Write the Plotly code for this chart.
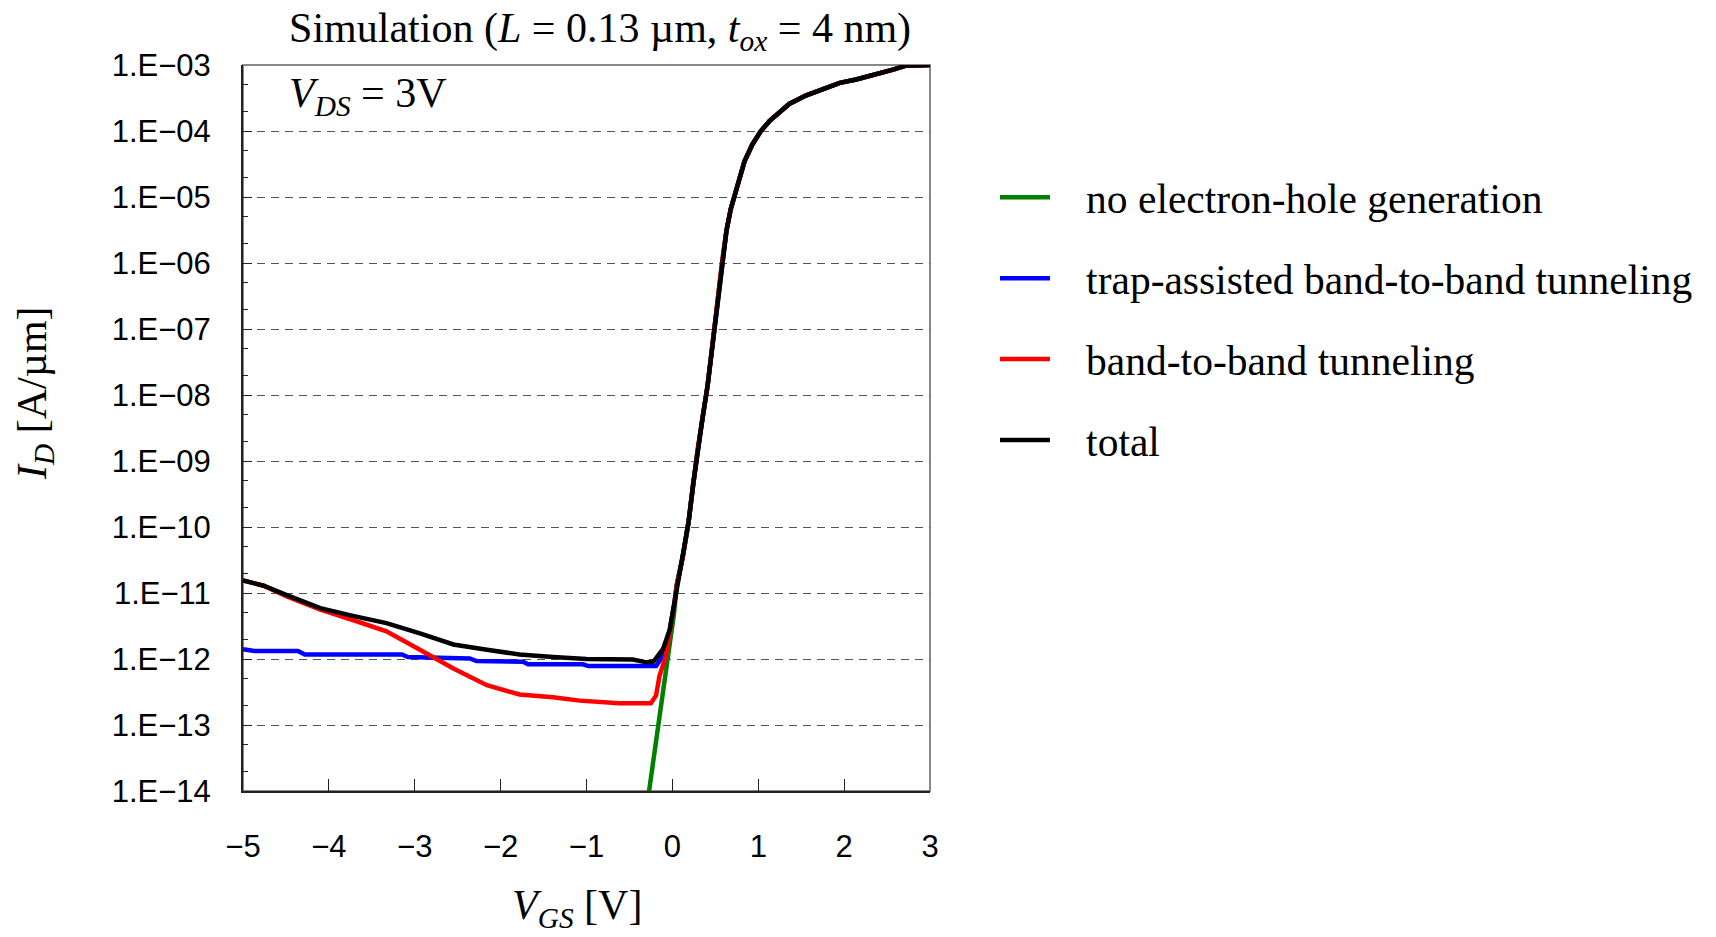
import plotly.graph_objects as go

# ---------------- data ----------------
# shared on-state branch (all curves coincide here)
vgs_on = [0.05, 0.12, 0.19, 0.24, 0.29, 0.35, 0.41, 0.47, 0.51, 0.58, 0.63, 0.68,
          0.76, 0.84, 0.93, 1.03, 1.13, 1.25, 1.36, 1.56, 1.75, 1.95, 2.14, 2.33,
          2.57, 2.72, 3.0]
id_on = [1.29e-11, 3.47e-11, 1.23e-10, 4.27e-10, 1.35e-9, 4.37e-9, 1.38e-8, 6.3e-8,
         2.0e-7, 1.05e-6, 3.1e-6, 6.6e-6, 1.51e-5, 3.47e-5, 6.2e-5, 1.0e-4,
         1.41e-4, 1.91e-4, 2.57e-4, 3.47e-4, 4.37e-4, 5.37e-4, 6.03e-4, 6.92e-4,
         8.51e-4, 9.77e-4, 1.0e-3]

# no electron-hole generation (low-current part)
vgs_green = [-0.30, -0.27, -0.16, -0.05, 0.02]
id_green = [5.4e-15, 1.0e-14, 1.0e-13, 1.0e-12, 5.0e-12]

# trap-assisted band-to-band tunneling (low-current part)
vgs_blue = [-5.0, -4.87, -4.36, -4.28, -3.15, -3.08, -2.36, -2.28, -1.74, -1.68,
            -1.04, -0.98, -0.19, -0.14, -0.08, -0.03, 0.02]
id_blue = [1.41e-12, 1.32e-12, 1.32e-12, 1.17e-12, 1.17e-12, 1.07e-12, 1.02e-12,
           9.3e-13, 9.1e-13, 8.3e-13, 8.3e-13, 7.8e-13, 7.8e-13, 9.8e-13,
           1.48e-12, 2.8e-12, 6.6e-12]

# band-to-band tunneling (low-current part)
vgs_red = [-5.0, -4.76, -4.49, -4.10, -3.72, -3.33, -2.94, -2.55, -2.16, -1.78,
           -1.39, -1.08, -0.62, -0.25, -0.19, -0.15, -0.08, 0.0, 0.03]
id_red = [1.55e-11, 1.29e-11, 8.9e-12, 5.6e-12, 3.9e-12, 2.63e-12, 1.38e-12,
          7.2e-13, 4.0e-13, 2.9e-13, 2.63e-13, 2.34e-13, 2.14e-13, 2.14e-13,
          2.8e-13, 5.5e-13, 1.07e-12, 4.0e-12, 7.9e-12]

# total (low-current part)
vgs_total = [-5.0, -4.76, -4.49, -4.10, -3.72, -3.33, -2.94, -2.55, -2.16, -1.78,
             -1.39, -1.0, -0.46, -0.30, -0.22, -0.11, -0.03, 0.02]
id_total = [1.55e-11, 1.29e-11, 9.3e-12, 5.9e-12, 4.5e-12, 3.5e-12, 2.45e-12,
            1.66e-12, 1.38e-12, 1.17e-12, 1.07e-12, 1.0e-12, 9.8e-13, 8.9e-13,
            9.1e-13, 1.41e-12, 2.8e-12, 6.6e-12]

series_names = ["no electron-hole generation",
                "trap-assisted band-to-band tunneling",
                "band-to-band tunneling",
                "total"]

x_tickvals = [-5, -4, -3, -2, -1, 0, 1, 2, 3]
x_ticktext = ["−5", "−4", "−3", "−2", "−1", "0", "1", "2", "3"]
y_tickvals = [1e-14, 1e-13, 1e-12, 1e-11, 1e-10, 1e-9, 1e-8, 1e-7, 1e-6, 1e-5, 1e-4, 1e-3]
y_ticktext = ["1.E−14", "1.E−13", "1.E−12", "1.E−11", "1.E−10", "1.E−09",
              "1.E−08", "1.E−07", "1.E−06", "1.E−05", "1.E−04", "1.E−03"]

# ---------------- figure ----------------
SERIF = "Liberation Serif, Times New Roman, serif"
SANS = "Liberation Sans, Arial, sans-serif"
NBSP = "\u00a0"

fig = go.Figure()
curves = [
    (vgs_green, id_green, "#008000", "g"),
    (vgs_blue, id_blue, "#0000ff", "b"),
    (vgs_red, id_red, "#ff0000", "r"),
    (vgs_total, id_total, "#000000", "k"),
]
for (vx, vy, col, grp), name in zip(curves, series_names):
    fig.add_trace(go.Scatter(
        x=vx + vgs_on, y=vy + id_on, mode="lines", name=NBSP * 3 + name,
        legendgroup=grp,
        line=dict(color=col, width=4.5),
    ))

fig.update_layout(
    width=1716, height=937,
    margin=dict(l=243, r=786, t=65, b=146),
    paper_bgcolor="white", plot_bgcolor="white",
    title=dict(
        text="Simulation (<i>L</i> = 0.13 µm, <i>t</i><sub><i>ox</i></sub> = 4 nm)",
        font=dict(family=SERIF, size=42, color="black"),
        xref="container", x=0.3497, xanchor="center",
        yref="container", y=0.971, yanchor="middle",
    ),
    showlegend=True,
    legend=dict(
        font=dict(family=SERIF, size=41.5, color="black"),
        x=1.0946, xanchor="left", y=0.864, yanchor="top",
        bgcolor="rgba(0,0,0,0)", tracegroupgap=24, itemwidth=50,
    ),
    xaxis=dict(
        range=[-5, 3], tickvals=x_tickvals, ticktext=x_ticktext,
        showline=True, linecolor="#222222", linewidth=2,
        ticks="inside", ticklen=12, tickwidth=1, tickcolor="#222222",
        showgrid=False, zeroline=False,
        tickfont=dict(family=SANS, size=31, color="black"),
        ticklabelstandoff=27,
    ),
    yaxis=dict(
        type="log", range=[-14, -3], tickvals=y_tickvals, ticktext=y_ticktext,
        showline=True, linecolor="#222222", linewidth=2,
        ticks="inside", ticklen=9, tickwidth=1, tickcolor="#222222",
        minor=dict(ticks="inside", ticklen=5, tickcolor="#222222", showgrid=False),
        showgrid=True, gridcolor="#555555", gridwidth=1, griddash="8px,6px",
        zeroline=False,
        tickfont=dict(family=SANS, size=31, color="black"),
        ticklabelstandoff=24,
    ),
    shapes=[dict(type="rect", xref="paper", yref="paper", x0=0, x1=1, y0=0, y1=1,
                 line=dict(color="#888888", width=2), layer="below")],
    annotations=[
        dict(text="<i>V</i><sub><i>DS</i></sub> = 3V", xref="paper", yref="paper",
             x=0.064, y=0.957, xanchor="left", yanchor="middle", showarrow=False,
             font=dict(family=SERIF, size=42, color="black")),
        dict(text="<i>I</i><sub><i>D</i></sub> [A/µm]", xref="paper", yref="paper",
             x=-0.303, y=0.548, xanchor="center", yanchor="middle", showarrow=False,
             textangle=-90, font=dict(family=SERIF, size=42, color="black")),
        dict(text="<i>V</i><sub><i>GS</i></sub> [V]", xref="paper", yref="paper",
             x=0.486, y=-0.161, xanchor="center", yanchor="middle", showarrow=False,
             font=dict(family=SERIF, size=42, color="black")),
    ],
)

# remove the browser's default 8px body margin so the figure fills the window
fig.write_html("out.html", config={"displayModeBar": False},
               post_script="document.body.style.margin='0';")
